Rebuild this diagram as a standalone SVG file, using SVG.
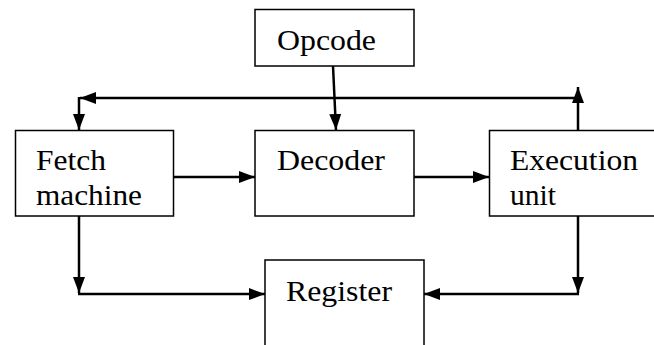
<svg xmlns="http://www.w3.org/2000/svg" width="654" height="345" viewBox="0 0 654 345">
<style>
.box{fill:#fff;stroke:#000;stroke-width:1.5}
.ln{fill:none;stroke:#000;stroke-width:2.5}
</style>
<defs>
<marker id="ah" viewBox="0 0 16 12" refX="16" refY="6" markerWidth="16" markerHeight="12" markerUnits="userSpaceOnUse" orient="auto">
<path d="M0,0 L16,6 L0,12 Z" fill="#000"/>
</marker>
</defs>
<rect width="654" height="345" fill="#fff"/>
<g font-family="Liberation Serif, Times New Roman, serif" font-size="30" fill="#000">
<g id="opcode"><rect class="box" x="255" y="9.5" width="159" height="56.5"/><text x="277" y="49.5" textLength="99" lengthAdjust="spacingAndGlyphs">Opcode</text></g>
<g id="fetch"><rect class="box" x="15.5" y="130.5" width="158" height="85.5"/><text x="36" y="169.5" textLength="70" lengthAdjust="spacingAndGlyphs">Fetch</text><text x="36" y="205" textLength="106" lengthAdjust="spacingAndGlyphs">machine</text></g>
<g id="decoder"><rect class="box" x="255" y="130.5" width="159" height="85.5"/><text x="277" y="170" textLength="108" lengthAdjust="spacingAndGlyphs">Decoder</text></g>
<g id="execution"><rect class="box" x="489.5" y="130.5" width="180" height="85.5"/><text x="510" y="170" textLength="128" lengthAdjust="spacingAndGlyphs">Execution</text><text x="510" y="205" textLength="46" lengthAdjust="spacingAndGlyphs">unit</text></g>
<g id="register"><rect class="box" x="265" y="260" width="159" height="100"/><text x="286" y="300.5" textLength="106" lengthAdjust="spacingAndGlyphs">Register</text></g>
</g>
<g id="connectors">
<path class="ln" d="M333,66 L336,130" marker-end="url(#ah)"/>
<path class="ln" d="M174,177 L255,177" marker-end="url(#ah)"/>
<path class="ln" d="M414,177 L489,177" marker-end="url(#ah)"/>
<path class="ln" d="M578,130 L578,87" marker-end="url(#ah)"/>
<path class="ln" d="M578,98 L80,98" marker-end="url(#ah)"/>
<path class="ln" d="M79,97 L79,130" marker-end="url(#ah)"/>
<path class="ln" d="M79,216 L79,293" marker-end="url(#ah)"/>
<path class="ln" d="M78,294 L265,294" marker-end="url(#ah)"/>
<path class="ln" d="M578,216 L578,293" marker-end="url(#ah)"/>
<path class="ln" d="M579,294 L424,294" marker-end="url(#ah)"/>
</g>
</svg>
